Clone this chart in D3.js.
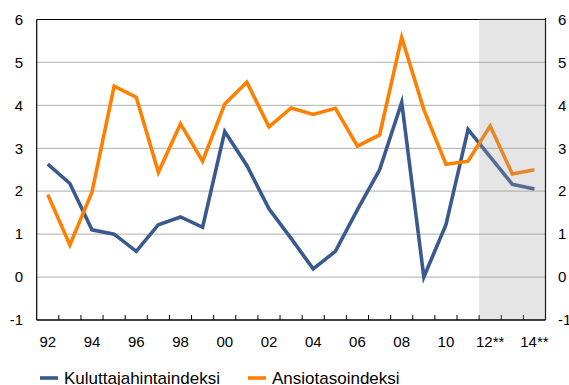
<!DOCTYPE html>
<html>
<head>
<meta charset="utf-8">
<script src="https://cdn.jsdelivr.net/npm/d3@7"></script>
<style>
  html, body { margin: 0; padding: 0; background: #fff; }
  svg { display: block; font-family: "Liberation Sans", Arial, sans-serif; }
</style>
</head>
<body>
<svg id="chart" width="569" height="385"></svg>
<script>
// Years 1992–2014 (12–14 are forecasts)
const years = ["92","93","94","95","96","97","98","99","00","01","02","03","04","05","06","07","08","09","10","11","12","13","14"];
const tickLabels = ["92","94","96","98","00","02","04","06","08","10","12**","14**"];
const forecastYears = ["12","13","14"];

// Annual change, %
const kuluttajahintaindeksi = [2.63, 2.18, 1.1, 1.0, 0.6, 1.22, 1.4, 1.16, 3.39, 2.6, 1.59, 0.9, 0.19, 0.6, 1.57, 2.5, 4.07, 0.0, 1.22, 3.44, 2.8, 2.16, 2.05];
const ansiotasoindeksi = [1.92, 0.75, 1.98, 4.45, 4.19, 2.44, 3.57, 2.7, 4.03, 4.54, 3.5, 3.94, 3.79, 3.93, 3.05, 3.31, 5.58, 3.9, 2.63, 2.7, 3.52, 2.4, 2.5];

const yTicks = [-1, 0, 1, 2, 3, 4, 5, 6];

const series = [
  { name: "Kuluttajahintaindeksi", values: kuluttajahintaindeksi, color: "#3A5A8E" },
  { name: "Ansiotasoindeksi", values: ansiotasoindeksi, color: "#FF8000" }
];

const svg = d3.select("#chart");
const plotLeft = 36.7, plotRight = 545.5, plotTop = 19.5, plotBottom = 320;

const x = d3.scaleBand().domain(years).range([plotLeft, plotRight]).padding(0);
const y = d3.scaleLinear().domain([-1, 6]).range([plotBottom, plotTop]);
const cx = d => x(d) + x.bandwidth() / 2;

// Horizontal gridlines
svg.append("g").selectAll("line")
  .data(yTicks.filter(t => t > -1 && t < 6))
  .join("line")
  .attr("x1", plotLeft).attr("x2", plotRight)
  .attr("y1", d => y(d)).attr("y2", d => y(d))
  .attr("stroke", "#BEBEBE").attr("stroke-width", 1.2);

// Year tick marks on the inside of the x axis
svg.append("g").selectAll("line")
  .data(years.slice(1))
  .join("line")
  .attr("x1", d => x(d)).attr("x2", d => x(d))
  .attr("y1", plotBottom).attr("y2", plotBottom - 5)
  .attr("stroke", "#000").attr("stroke-width", 1);

// Left and top frame
svg.append("line").attr("x1", plotLeft).attr("x2", plotLeft).attr("y1", plotTop).attr("y2", plotBottom)
  .attr("stroke", "#000").attr("stroke-width", 1.2);
svg.append("line").attr("x1", plotLeft).attr("x2", plotRight).attr("y1", plotTop).attr("y2", plotTop)
  .attr("stroke", "#000").attr("stroke-width", 1.2);

// Lines
const line = d3.line().x((d, i) => cx(years[i])).y(d => y(d));
svg.append("g").selectAll("path")
  .data(series)
  .join("path")
  .attr("d", d => line(d.values))
  .attr("fill", "none")
  .attr("stroke", d => d.color)
  .attr("stroke-width", 3.6)
  .attr("stroke-linejoin", "miter")
  .attr("stroke-miterlimit", 10);

// Forecast period shading
const shadeX = x(forecastYears[0]);
svg.append("rect")
  .attr("x", shadeX).attr("y", plotTop - 1.5)
  .attr("width", plotRight - shadeX).attr("height", plotBottom - plotTop + 1.5)
  .attr("fill", "rgb(159,159,159)").attr("fill-opacity", 0.27);

// Right frame and bottom axis line
svg.append("line").attr("x1", plotRight).attr("x2", plotRight).attr("y1", plotTop - 1.5).attr("y2", plotBottom)
  .attr("stroke", "#1a1a1a").attr("stroke-width", 1.2);
svg.append("line").attr("x1", plotLeft).attr("x2", plotRight).attr("y1", plotBottom).attr("y2", plotBottom)
  .attr("stroke", "#000").attr("stroke-width", 1.4);

// Y axis labels, both sides
const yLab = svg.append("g").attr("font-size", 15).attr("fill", "#000");
yLab.selectAll("text.l").data(yTicks).join("text").attr("class", "l")
  .attr("x", 23).attr("y", d => y(d)).attr("dy", "0.35em")
  .attr("text-anchor", "end").text(d => d);
yLab.selectAll("text.r").data(yTicks).join("text").attr("class", "r")
  .attr("x", 558).attr("y", d => y(d)).attr("dy", "0.35em")
  .attr("text-anchor", "start").text(d => d);

// X axis labels (every other year)
const labelYears = years.filter((d, i) => i % 2 === 0);
svg.append("g").selectAll("text")
  .data(labelYears)
  .join("text")
  .attr("x", d => cx(d)).attr("y", 341.5).attr("dy", "0.35em")
  .attr("text-anchor", "middle").attr("font-size", 15)
  .text((d, i) => tickLabels[i]);

// Legend
const legend = svg.append("g").attr("font-size", 17);
const legendX = [40, 248];
series.forEach((s, i) => {
  legend.append("line")
    .attr("x1", legendX[i]).attr("x2", legendX[i] + 18)
    .attr("y1", 378).attr("y2", 378)
    .attr("stroke", s.color).attr("stroke-width", 3.6);
  legend.append("text")
    .attr("x", legendX[i] + 24).attr("y", 378).attr("dy", "0.35em")
    .text(s.name);
});
</script>
</body>
</html>
